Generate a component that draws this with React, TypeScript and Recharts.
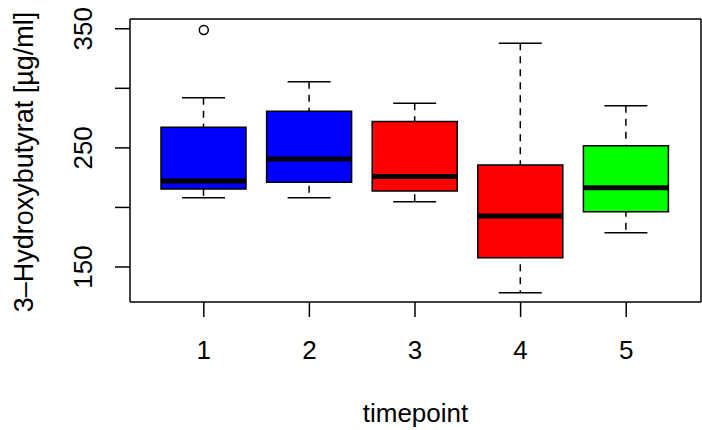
import React from 'react';
import {
  ComposedChart,
  Bar,
  Cell,
  Scatter,
  XAxis,
  YAxis,
  Label,
} from 'recharts';

const FONT = '"Liberation Sans", Arial, Helvetica, sans-serif';

// boxplot stats per timepoint
const timepoints = ['1', '2', '3', '4', '5'];
const lowerWhisker = [208.2, 208.2, 204.8, 128.4, 178.7];
const lowerQuartile = [215.5, 221.1, 213.8, 157.7, 196.4];
const medians = [222.2, 240.7, 225.9, 192.7, 216.6];
const upperQuartile = [267.4, 280.7, 272.2, 235.7, 251.7];
const upperWhisker = [292.1, 305.6, 287.4, 337.9, 285.4];
const boxColors = ['#0000ff', '#0000ff', '#ff0000', '#ff0000', '#00ff00'];

const outlierTimepoints = ['1'];
const outlierValues = [349];

const yTicks = [150, 200, 250, 300, 350];
const yLabelledTicks = [150, 250, 350];
const yDomain = [120.6, 358.2];

const data = timepoints.map((t, i) => ({
  t,
  whisker: [lowerWhisker[i], upperWhisker[i]],
  box: [lowerQuartile[i], upperQuartile[i]],
  median: medians[i],
  color: boxColors[i],
}));

const outliers = outlierTimepoints.map((t, i) => ({ t, value: outlierValues[i] }));

function WhiskerShape(props: any) {
  const { x, y, width, height } = props;
  const top = Math.min(y, y + height);
  const bottom = Math.max(y, y + height);
  const cx = x + width / 2;
  return (
    <g>
      <line x1={cx} x2={cx} y1={top} y2={bottom} stroke="#000" strokeWidth={1.5} strokeDasharray="7 6" />
      <line x1={x} x2={x + width} y1={top} y2={top} stroke="#000" strokeWidth={1.5} />
      <line x1={x} x2={x + width} y1={bottom} y2={bottom} stroke="#000" strokeWidth={1.5} />
    </g>
  );
}

function MedianShape(props: any) {
  const { cx, cy } = props;
  return <line x1={cx - 42.5} x2={cx + 42.5} y1={cy} y2={cy} stroke="#000" strokeWidth={5} />;
}

function OutlierShape(props: any) {
  const { cx, cy } = props;
  return <circle cx={cx} cy={cy} r={4.5} fill="none" stroke="#000" strokeWidth={1.5} />;
}

function YTick(props: any) {
  const { x, y, payload } = props;
  if (!yLabelledTicks.includes(payload.value)) return <g />;
  return (
    <text
      x={x}
      y={y}
      transform={`rotate(-90, ${x}, ${y})`}
      textAnchor="middle"
      fontSize={26}
      fontFamily={FONT}
      fill="#000"
    >
      {payload.value}
    </text>
  );
}

function XTick(props: any) {
  const { x, y, payload } = props;
  return (
    <text x={x} y={y} dy="0.71em" textAnchor="middle" fontSize={26} fontFamily={FONT} fill="#000">
      {payload.value}
    </text>
  );
}

export default function App() {
  return (
    <div style={{ position: 'absolute', left: 0, top: 0, width: 702, height: 430, background: '#fff' }}>
      <ComposedChart
        width={702}
        height={430}
        data={data}
        margin={{ top: 18, right: 0, bottom: 0, left: 0 }}
      >
        <XAxis
          xAxisId="a"
          dataKey="t"
          type="category"
          allowDuplicatedCategory={false}
          padding={{ left: 21, right: 22 }}
          height={128}
          axisLine={{ stroke: '#000', strokeWidth: 1.5 }}
          tickLine={{ stroke: '#000', strokeWidth: 1.5 }}
          tickSize={15}
          tickMargin={24}
          tick={<XTick />}
        >
          <Label
            content={() => (
              <text x={415.5} y={421.7} textAnchor="middle" fontSize={26} fontFamily={FONT} fill="#000">
                timepoint
              </text>
            )}
          />
        </XAxis>
        <XAxis
          xAxisId="b"
          dataKey="t"
          type="category"
          orientation="top"
          padding={{ left: 21, right: 22 }}
          height={1}
          tick={false}
          tickLine={false}
          axisLine={{ stroke: '#000', strokeWidth: 1.5 }}
        />
        <YAxis
          type="number"
          domain={yDomain}
          allowDataOverflow
          ticks={yTicks}
          interval={0}
          width={130}
          axisLine={{ stroke: '#000', strokeWidth: 1.5 }}
          tickLine={{ stroke: '#000', strokeWidth: 1.5 }}
          tickSize={15}
          tickMargin={23}
          tick={<YTick />}
        >
          <Label
            content={() => (
              <text
                x={33}
                y={162}
                transform="rotate(-90, 33, 162)"
                textAnchor="middle"
                fontSize={27}
                fontFamily={FONT}
                fill="#000"
              >
                3–Hydroxybutyrat [µg/ml]
              </text>
            )}
          />
        </YAxis>
        <YAxis
          yAxisId="right"
          orientation="right"
          type="number"
          domain={yDomain}
          allowDataOverflow
          width={1}
          tick={false}
          tickLine={false}
          axisLine={{ stroke: '#000', strokeWidth: 1.5 }}
        />
        <Bar
          xAxisId="a"
          dataKey="whisker"
          barSize={43}
          shape={<WhiskerShape />}
          isAnimationActive={false}
        />
        <Bar
          xAxisId="b"
          dataKey="box"
          barSize={85}
          stroke="#000"
          strokeWidth={1.5}
          isAnimationActive={false}
        >
          {data.map((d, i) => (
            <Cell key={`box-${i}`} fill={d.color} />
          ))}
        </Bar>
        <Scatter xAxisId="a" dataKey="median" shape={<MedianShape />} isAnimationActive={false} />
        <Scatter
          xAxisId="a"
          data={outliers}
          dataKey="value"
          shape={<OutlierShape />}
          isAnimationActive={false}
        />
      </ComposedChart>
    </div>
  );
}
